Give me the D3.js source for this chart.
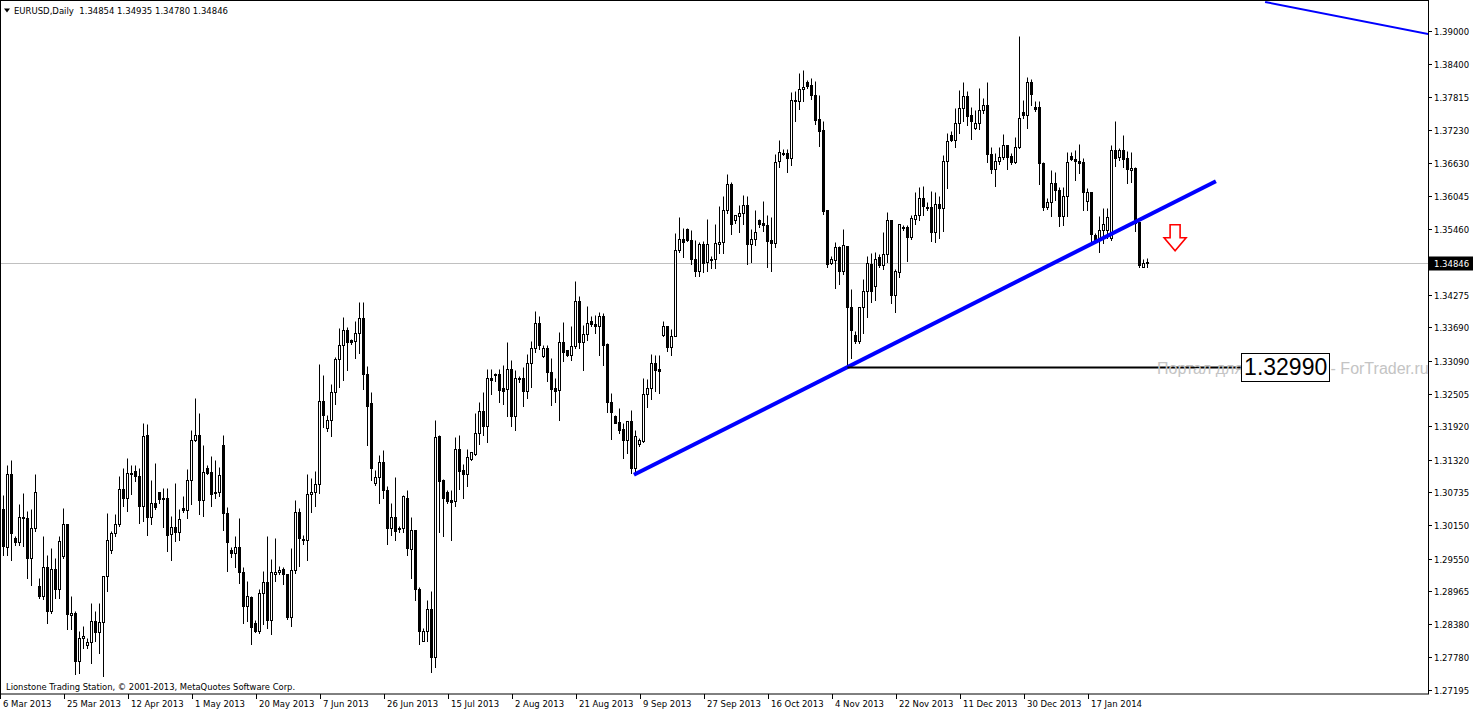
<!DOCTYPE html>
<html><head><meta charset="utf-8">
<script src="https://cdn.jsdelivr.net/npm/d3@7/dist/d3.min.js"></script>
<style>body{margin:0;background:#fff;overflow:hidden}svg{display:block}</style>
</head><body>
<script>
// ---- DATA (EURUSD Daily, bar index 0 .. 286) ----
const opens = [1.3044,1.2975,1.3106,1.2992,1.2985,1.3030,1.3028,1.2956,1.3010,1.2906,1.2888,1.2940,1.2861,1.2937,1.2900,1.2959,1.3016,1.2854,1.2858,1.2771,1.2812,1.2801,1.2806,1.2843,1.2824,1.2842,1.2923,1.2971,1.3001,1.3016,1.3080,1.3064,1.3106,1.3112,1.3103,1.3049,1.3176,1.3029,1.3055,1.3075,1.3064,1.3064,1.2999,1.3012,1.3003,1.3046,1.3042,1.3095,1.3167,1.3177,1.3060,1.3118,1.3110,1.3075,1.3075,1.3158,1.3037,1.2970,1.2965,1.2976,1.2931,1.2870,1.2886,1.2840,1.2825,1.2894,1.2913,1.2845,1.2927,1.2930,1.2936,1.2928,1.2850,1.2935,1.3039,1.2990,1.2988,1.3070,1.3075,1.3089,1.3238,1.3189,1.3204,1.3254,1.3312,1.3337,1.3365,1.3346,1.3344,1.3359,1.3385,1.3286,1.3233,1.3091,1.3101,1.3128,1.3077,1.3010,1.3030,1.3010,1.3010,1.3064,1.2972,1.3007,1.2901,1.2807,1.2825,1.2865,1.2779,1.3174,1.3095,1.3074,1.3060,1.3058,1.3151,1.3113,1.3107,1.3133,1.3143,1.3180,1.3220,1.3192,1.3279,1.3284,1.3285,1.3260,1.3259,1.3294,1.3210,1.3276,1.3278,1.3255,1.3305,1.3333,1.3377,1.3318,1.3333,1.3290,1.3260,1.3257,1.3343,1.3329,1.3319,1.3335,1.3417,1.3342,1.3357,1.3381,1.3376,1.3371,1.3390,1.3340,1.3236,1.3210,1.3199,1.3187,1.3167,1.3202,1.3117,1.3160,1.3165,1.3249,1.3261,1.3305,1.3295,1.3356,1.3371,1.3334,1.3354,1.3507,1.3528,1.3545,1.3526,1.3492,1.3470,1.3519,1.3486,1.3490,1.3491,1.3519,1.3522,1.3579,1.3626,1.3561,1.3569,1.3574,1.3589,1.3519,1.3527,1.3561,1.3556,1.3553,1.3525,1.3521,1.3668,1.3680,1.3682,1.3672,1.3777,1.3774,1.3796,1.3808,1.3804,1.3786,1.3742,1.3722,1.3579,1.3484,1.3490,1.3513,1.3470,1.3515,1.3406,1.3355,1.3344,1.3406,1.3434,1.3482,1.3443,1.3495,1.3481,1.3500,1.3562,1.3427,1.3469,1.3547,1.3549,1.3531,1.3564,1.3570,1.3601,1.3584,1.3584,1.3540,1.3590,1.3583,1.3668,1.3713,1.3704,1.3735,1.3762,1.3784,1.3749,1.3727,1.3735,1.3759,1.3768,1.3679,1.3652,1.3668,1.3675,1.3696,1.3676,1.3666,1.3692,1.3755,1.3749,1.3808,1.3763,1.3763,1.3663,1.3584,1.3593,1.3627,1.3615,1.3569,1.3604,1.3676,1.3670,1.3668,1.3665,1.3596,1.3612,1.3535,1.3527,1.3543,1.3544,1.3529,1.3687,1.3674,1.3686,1.3673,1.3651,1.3655,1.3557,1.3478,1.34854];
const highs = [1.3068,1.3123,1.3132,1.2995,1.3052,1.3073,1.3040,1.3043,1.3106,1.2920,1.2995,1.2962,1.2974,1.2956,1.2995,1.3045,1.3016,1.2888,1.2861,1.2825,1.2834,1.2812,1.2876,1.2861,1.2876,1.2923,1.3037,1.3004,1.3034,1.3103,1.3117,1.3135,1.3123,1.3123,1.3117,1.3198,1.3196,1.3095,1.3127,1.3075,1.3082,1.3082,1.3032,1.3091,1.3043,1.3067,1.3115,1.3185,1.3242,1.3215,1.3158,1.3122,1.3139,1.3131,1.3119,1.3176,1.3048,1.2976,1.2996,1.3027,1.2940,1.2915,1.2888,1.2845,1.2901,1.2933,1.2996,1.2955,1.2991,1.2942,1.2939,1.2928,1.2974,1.3059,1.3046,1.2998,1.3106,1.3100,1.3112,1.3303,1.3283,1.3213,1.3267,1.3316,1.3368,1.3388,1.3370,1.3349,1.3380,1.3414,1.3415,1.3300,1.3253,1.3113,1.3141,1.3149,1.3085,1.3054,1.3101,1.3013,1.3069,1.3077,1.3030,1.3007,1.2904,1.2830,1.2880,1.2896,1.3204,1.3176,1.3098,1.3077,1.3078,1.3173,1.3176,1.3124,1.3152,1.3146,1.3216,1.3236,1.3254,1.3295,1.3295,1.3287,1.3294,1.3301,1.3343,1.3311,1.3292,1.3282,1.3299,1.3322,1.3345,1.3399,1.3389,1.3337,1.3337,1.3315,1.3278,1.3361,1.3379,1.3329,1.3372,1.3452,1.3425,1.3374,1.3407,1.3390,1.3392,1.3396,1.3395,1.3341,1.3252,1.3213,1.3225,1.3198,1.3202,1.3221,1.3186,1.3171,1.3279,1.3276,1.3322,1.3320,1.3319,1.3381,1.3371,1.3366,1.3539,1.3567,1.3547,1.3547,1.3544,1.3525,1.3522,1.3523,1.3564,1.3497,1.3555,1.3587,1.3605,1.3644,1.3630,1.3570,1.3589,1.3607,1.3604,1.3545,1.3580,1.3564,1.3596,1.3570,1.3567,1.3680,1.3704,1.3688,1.3688,1.3791,1.3792,1.3824,1.3831,1.3813,1.3816,1.3810,1.3785,1.3739,1.3580,1.3497,1.3522,1.3515,1.3546,1.3515,1.3437,1.3362,1.3406,1.3455,1.3497,1.3503,1.3504,1.3500,1.3540,1.3576,1.3562,1.3474,1.3555,1.3552,1.3553,1.3571,1.3612,1.3621,1.3622,1.3593,1.3613,1.3612,1.3604,1.3677,1.3718,1.3721,1.3762,1.3794,1.3809,1.3792,1.3764,1.3758,1.3797,1.3780,1.3808,1.3692,1.3681,1.3692,1.3716,1.3696,1.3681,1.3711,1.3891,1.3777,1.3817,1.3814,1.3774,1.3774,1.3666,1.3601,1.3651,1.3648,1.3621,1.3621,1.3684,1.3684,1.3687,1.3698,1.3672,1.3618,1.3612,1.3538,1.3568,1.3583,1.3583,1.3696,1.3738,1.3690,1.3714,1.3685,1.3683,1.3657,1.3557,1.3491,1.34935];
const lows = [1.2962,1.2962,1.2952,1.2980,1.2979,1.2977,1.2920,1.2907,1.3004,1.2885,1.2882,1.2840,1.2858,1.2885,1.2885,1.2956,1.2828,1.2828,1.2749,1.2750,1.2795,1.2795,1.2768,1.2807,1.2786,1.2744,1.2897,1.2965,1.2995,1.3013,1.3049,1.3040,1.3070,1.3094,1.3019,1.3022,1.2998,1.3016,1.3043,1.3055,1.3011,1.2968,1.2952,1.2986,1.2988,1.3038,1.3027,1.3052,1.3165,1.3034,1.3031,1.3106,1.3049,1.3063,1.3067,1.3007,1.2933,1.2958,1.2939,1.2912,1.2840,1.2843,1.2802,1.2823,1.2821,1.2838,1.2831,1.2819,1.2915,1.2927,1.2910,1.2846,1.2834,1.2929,1.2941,1.2981,1.2952,1.3039,1.3049,1.3072,1.3191,1.3183,1.3174,1.3231,1.3263,1.3275,1.3292,1.3340,1.3315,1.3324,1.3259,1.3159,1.3095,1.3086,1.3055,1.3063,1.2981,1.2998,1.2988,1.3003,1.3003,1.2961,1.2921,1.2880,1.2802,1.2807,1.2807,1.2752,1.2761,1.3003,1.2995,1.3054,1.2989,1.3049,1.3079,1.3063,1.3085,1.3131,1.3140,1.3160,1.3176,1.3164,1.3249,1.3273,1.3235,1.3231,1.3210,1.3192,1.3185,1.3272,1.3229,1.3242,1.3262,1.3325,1.3330,1.3316,1.3273,1.3230,1.3236,1.3203,1.3309,1.3317,1.3311,1.3332,1.3332,1.3293,1.3346,1.3371,1.3359,1.3320,1.3301,1.3218,1.3170,1.3197,1.3180,1.3135,1.3144,1.3108,1.3105,1.3157,1.3163,1.3227,1.3241,1.3255,1.3252,1.3353,1.3326,1.3320,1.3353,1.3505,1.3495,1.3523,1.3483,1.3461,1.3461,1.3468,1.3470,1.3476,1.3476,1.3503,1.3502,1.3574,1.3537,1.3556,1.3540,1.3555,1.3483,1.3486,1.3517,1.3548,1.3542,1.3477,1.3470,1.3513,1.3656,1.3678,1.3647,1.3660,1.3739,1.3761,1.3774,1.3798,1.3779,1.3733,1.3694,1.3573,1.3477,1.3482,1.3439,1.3446,1.3464,1.3300,1.3315,1.3341,1.3341,1.3359,1.3388,1.3414,1.3419,1.3478,1.3473,1.3486,1.3413,1.3396,1.3459,1.3544,1.3488,1.3527,1.3555,1.3562,1.3570,1.3580,1.3524,1.3522,1.3530,1.3541,1.3619,1.3703,1.3692,1.3718,1.3738,1.3732,1.3707,1.3725,1.3724,1.3753,1.3665,1.3646,1.3622,1.3662,1.3670,1.3652,1.3662,1.3663,1.3690,1.3744,1.3726,1.3768,1.3756,1.3626,1.3580,1.3581,1.3568,1.3598,1.3550,1.3553,1.3569,1.3669,1.3633,1.3646,1.3580,1.3580,1.3517,1.3520,1.3505,1.3520,1.3529,1.3526,1.3658,1.3669,1.3657,1.3627,1.3630,1.3542,1.3477,1.3477,1.34780];
const closes = [1.2977,1.3106,1.3001,1.2985,1.3030,1.3027,1.2956,1.3010,1.3074,1.2888,1.2940,1.2861,1.2937,1.2900,1.2987,1.3016,1.2855,1.2858,1.2771,1.2812,1.2817,1.2806,1.2843,1.2824,1.2842,1.2923,1.2989,1.3001,1.3016,1.3080,1.3064,1.3109,1.3109,1.3103,1.3049,1.3174,1.3029,1.3055,1.3047,1.3062,1.3062,1.2997,1.3012,1.3002,1.3025,1.3042,1.3095,1.3167,1.3177,1.3060,1.3110,1.3108,1.3071,1.3072,1.3104,1.3037,1.2985,1.2965,1.2976,1.2931,1.2870,1.2887,1.2832,1.2825,1.2894,1.2913,1.2845,1.2930,1.2930,1.2934,1.2928,1.2850,1.2935,1.3039,1.2992,1.2988,1.3070,1.3075,1.3089,1.3238,1.3212,1.3204,1.3254,1.3312,1.3337,1.3365,1.3343,1.3343,1.3359,1.3385,1.3286,1.3229,1.3118,1.3101,1.3128,1.3077,1.3010,1.3030,1.3004,1.3008,1.3067,1.2974,1.3007,1.2901,1.2825,1.2826,1.2865,1.2779,1.3173,1.3094,1.3063,1.3058,1.3056,1.3151,1.3112,1.3106,1.3137,1.3146,1.3180,1.3220,1.3192,1.3279,1.3275,1.3285,1.3257,1.3256,1.3294,1.3210,1.3278,1.3278,1.3255,1.3305,1.3333,1.3377,1.3337,1.3333,1.3289,1.3259,1.3256,1.3343,1.3325,1.3319,1.3335,1.3417,1.3342,1.3357,1.3377,1.3375,1.3371,1.3390,1.3338,1.3236,1.3218,1.3198,1.3186,1.3167,1.3202,1.3117,1.3174,1.3168,1.3250,1.3261,1.3305,1.3293,1.3291,1.3371,1.3334,1.3354,1.3507,1.3528,1.3522,1.3525,1.3491,1.3470,1.3519,1.3485,1.3519,1.3491,1.3521,1.3522,1.3579,1.3626,1.3555,1.3570,1.3574,1.3589,1.3519,1.3527,1.3540,1.3555,1.3552,1.3524,1.3521,1.3666,1.3684,1.3682,1.3672,1.3777,1.3774,1.3796,1.3800,1.3802,1.3785,1.3740,1.3721,1.3577,1.3483,1.3491,1.3513,1.3470,1.3516,1.3405,1.3365,1.3344,1.3406,1.3435,1.3484,1.3434,1.3492,1.3481,1.3501,1.3562,1.3427,1.3470,1.3555,1.3549,1.3531,1.3565,1.3571,1.3601,1.3586,1.3583,1.3540,1.3590,1.3583,1.3668,1.3703,1.3704,1.3735,1.3762,1.3784,1.3747,1.3738,1.3735,1.3759,1.3768,1.3679,1.3652,1.3667,1.3675,1.3696,1.3675,1.3666,1.3692,1.3744,1.3749,1.3808,1.3787,1.3761,1.3663,1.3584,1.3593,1.3627,1.3615,1.3569,1.3605,1.3665,1.3670,1.3667,1.3664,1.3612,1.3612,1.3536,1.3526,1.3544,1.3555,1.3566,1.3687,1.3672,1.3686,1.3671,1.3652,1.3655,1.3556,1.3481,1.3484,1.34846];

const dateLabels = ["6 Mar 2013","25 Mar 2013","12 Apr 2013","1 May 2013","20 May 2013","7 Jun 2013","26 Jun 2013","15 Jul 2013","2 Aug 2013","21 Aug 2013","9 Sep 2013","27 Sep 2013","16 Oct 2013","4 Nov 2013","22 Nov 2013","11 Dec 2013","30 Dec 2013","17 Jan 2014"];
const dateBars = [-1,15,31,47,63,79,95,111,127,143,159,175,191,207,223,239,255,271];
const priceLabels = ["1.39000","1.38400","1.37815","1.37230","1.36630","1.36045","1.35460","1.34275","1.33690","1.33090","1.32505","1.31920","1.31320","1.30735","1.30150","1.29550","1.28965","1.28380","1.27780","1.27195"];
const symbolInfo = "EURUSD,Daily  1.34854 1.34935 1.34780 1.34846";
const lastPrice = 1.34846;
const trendMain = [{bar:157.6, price:1.3105},{bar:303.1, price:1.3631}];
const trendTop = [{bar:315.4, price:1.3952},{bar:360, price:1.3889}];
const levelLine = {bar1:211, bar2:318, price:1.32990, label:"1.32990", labelBar:309.4};
const arrowAt = {bar:292.9, price:1.3553};
const watermark = "Портал для трейдеров - ForTrader.ru";
const copyright = "Lionstone Trading Station, © 2001-2013, MetaQuotes Software Corp.";

// ---- DRAWING ----
const W = 1473, H = 712, plotR = 1428, plotB = 694;
const FONT = "DejaVu Sans";
const svg = d3.select("body").append("svg").attr("width", W).attr("height", H);
const x = d3.scaleLinear().domain([-0.875, 356.125]).range([0, plotR]);
const y = d3.scaleLinear().domain([1.27195, 1.39]).range([690, 31]);
const py = v => Math.round(y(v)) + 0.5;

svg.append("defs").append("clipPath").attr("id", "clip")
  .append("rect").attr("x", 0).attr("y", 0).attr("width", plotR).attr("height", plotB);

const candles = opens.map((o, i) => ({i, o, h: highs[i], l: lows[i], c: closes[i]}));
const g = svg.append("g").attr("clip-path", "url(#clip)");

// current price line
g.append("line").attr("x1", 0).attr("x2", plotR)
  .attr("y1", py(lastPrice)).attr("y2", py(lastPrice))
  .attr("stroke", "#c0c0c0").attr("stroke-width", 1);

// wicks
g.selectAll("line.wick").data(candles).join("line").attr("class", "wick")
  .attr("x1", d => x(d.i)).attr("x2", d => x(d.i))
  .attr("y1", d => py(d.h)).attr("y2", d => py(d.l) + 0.5)
  .attr("stroke", "#000").attr("stroke-width", 1);

// bodies
g.selectAll("rect.body").data(candles).join("rect").attr("class", "body")
  .attr("x", d => x(d.i) - 1).attr("width", 2)
  .attr("y", d => py(Math.max(d.o, d.c)))
  .attr("height", d => py(Math.min(d.o, d.c)) - py(Math.max(d.o, d.c)))
  .attr("fill", d => d.c >= d.o ? "#fff" : "#000")
  .attr("stroke", "#000").attr("stroke-width", 1);

// trend lines
g.append("line")
  .attr("x1", x(trendMain[0].bar)).attr("y1", y(trendMain[0].price))
  .attr("x2", x(trendMain[1].bar)).attr("y2", y(trendMain[1].price))
  .attr("stroke", "#0000ff").attr("stroke-width", 4);
g.append("line")
  .attr("x1", x(trendTop[0].bar)).attr("y1", y(trendTop[0].price))
  .attr("x2", x(trendTop[1].bar)).attr("y2", y(trendTop[1].price))
  .attr("stroke", "#0000ff").attr("stroke-width", 2);

// horizontal level
g.append("line")
  .attr("x1", x(levelLine.bar1)).attr("x2", x(levelLine.bar2))
  .attr("y1", Math.round(y(levelLine.price)) + 0.5).attr("y2", Math.round(y(levelLine.price)) + 0.5)
  .attr("stroke", "#000").attr("stroke-width", 2);

// red arrow
const ax = x(arrowAt.bar), ay = y(arrowAt.price);
g.append("path")
  .attr("d", `M${ax-5},${ay} L${ax+5},${ay} L${ax+5},${ay+13} L${ax+11},${ay+13} L${ax},${ay+26} L${ax-11},${ay+13} L${ax-5},${ay+13} Z`)
  .attr("fill", "#fff").attr("stroke", "#ff0000").attr("stroke-width", 1.6).attr("stroke-linejoin", "miter");

// frame
svg.append("rect").attr("x", 0.5).attr("y", 0.5).attr("width", plotR).attr("height", plotB - 0.5)
  .attr("fill", "none").attr("stroke", "#000").attr("stroke-width", 1);

// right axis
const ra = svg.append("g");
priceLabels.forEach(lbl => {
  const v = +lbl, yy = py(v);
  ra.append("line").attr("x1", plotR).attr("x2", plotR + 4).attr("y1", yy).attr("y2", yy).attr("stroke", "#000");
  ra.append("text").attr("x", plotR + 6).attr("y", yy + 3.5).text(lbl)
    .attr("font-family", FONT).attr("font-size", "8.5px").attr("fill", "#000");
});
// current price tag
const cy = py(lastPrice);
ra.append("rect").attr("x", plotR + 1).attr("y", cy - 7).attr("width", W - plotR - 1).attr("height", 14).attr("fill", "#000");
ra.append("text").attr("x", plotR + 6).attr("y", cy + 3.5).text(lastPrice.toFixed(5))
  .attr("font-family", FONT).attr("font-size", "8.5px").attr("fill", "#fff");

// bottom axis
dateLabels.forEach((lbl, k) => {
  const xx = Math.round(x(dateBars[k])) + 0.5;
  svg.append("line").attr("x1", xx).attr("x2", xx).attr("y1", plotB).attr("y2", plotB + 5).attr("stroke", "#000");
  svg.append("text").attr("x", xx + 2.5).attr("y", 707).text(lbl)
    .attr("font-family", FONT).attr("font-size", "8.5px").attr("fill", "#000");
});

// header
svg.append("path").attr("d", "M4,8.5 L10,8.5 L7,12.5 Z").attr("fill", "#000");
svg.append("text").attr("x", 14).attr("y", 14).style("white-space", "pre").text(symbolInfo)
  .attr("font-family", FONT).attr("font-size", "8.5px").attr("fill", "#000");

// copyright
svg.append("text").attr("x", 6).attr("y", 690).text(copyright)
  .attr("font-family", FONT).attr("font-size", "8.4px").attr("fill", "#000");

// watermark
svg.append("text").attr("x", 1157).attr("y", py(levelLine.price) + 6).text(watermark)
  .attr("font-family", "Liberation Sans").attr("font-size", "16px").attr("fill", "#c4c4c4");

// level label box
const lx = x(levelLine.labelBar), lyc = y(levelLine.price);
const lg = svg.append("g");
const lrect = lg.append("rect")
  .attr("x", Math.round(lx) + 0.5).attr("y", Math.round(lyc - 14) + 0.5)
  .attr("height", 28)
  .attr("fill", "#fff").attr("stroke", "#000").attr("stroke-width", 1);
const lt = lg.append("text").attr("x", lx + 3).attr("y", lyc + 8).text(levelLine.label)
  .attr("font-family", "Liberation Sans").attr("font-size", "23px").attr("fill", "#000");
const bb = lt.node().getBBox();
lrect.attr("width", Math.round(bb.width + 5));
</script>
</body></html>
